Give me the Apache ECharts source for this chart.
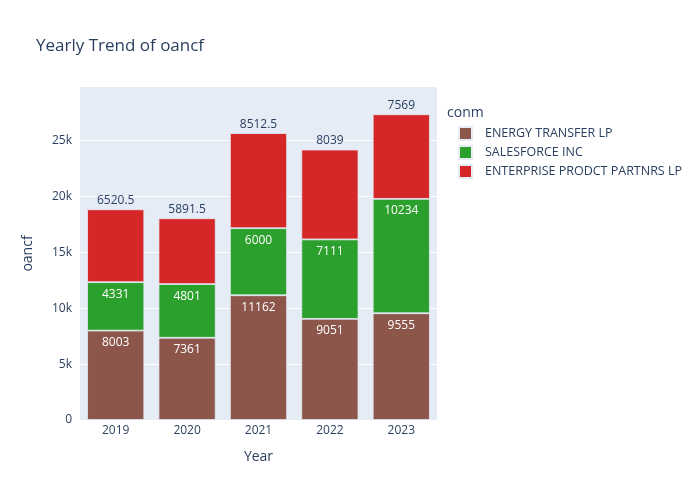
<!DOCTYPE html>
<html>
<head>
<meta charset="utf-8">
<script src="https://cdn.jsdelivr.net/npm/echarts@6/dist/echarts.min.js"></script>
<style>
  html, body { margin: 0; padding: 0; background: #fff; }
  #chart { width: 700px; height: 500px; }
</style>
</head>
<body>
<div id="chart"></div>
<script>
let years = ['2019', '2020', '2021', '2022', '2023'];
let energyTransfer = [8003, 7361, 11162, 9051, 9555];
let salesforce = [4331, 4801, 6000, 7111, 10234];
let enterprise = [6520.5, 5891.5, 8512.5, 8039, 7569];
let seriesNames = ['ENERGY TRANSFER LP', 'SALESFORCE INC', 'ENTERPRISE PRODCT PARTNRS LP'];
let colors = ['#8c564b', '#2ca02c', '#d62728'];

let font = '"Open Sans", "Noto Sans", sans-serif';
let textColor = '#2a3f5f';

let myChart = echarts.init(document.getElementById('chart'));

function barSeries(name, data, color, outside) {
  return {
    name: name,
    type: 'bar',
    stack: 'total',
    data: data,
    barCategoryGap: '20%',
    itemStyle: { color: color, borderColor: '#e5ecf6', borderWidth: 0.8 },
    label: {
      show: true,
      position: outside ? 'top' : 'insideTop',
      distance: outside ? 3 : 6,
      color: outside ? textColor : '#fff',
      fontFamily: font,
      fontSize: 12
    },
    emphasis: { disabled: true }
  };
}

myChart.setOption({
  animation: false,
  color: colors,
  textStyle: { fontFamily: font },
  title: {
    text: 'Yearly Trend of oancf',
    left: 31,
    top: 33,
    textStyle: { color: textColor, fontSize: 17, fontWeight: 'normal', fontFamily: font }
  },
  graphic: [{
    type: 'text',
    left: 447,
    top: 106,
    style: { text: 'conm', fill: textColor, fontSize: 14, fontFamily: font }
  }],
  legend: {
    orient: 'vertical',
    left: 453,
    top: 121,
    itemWidth: 13,
    itemHeight: 13,
    itemGap: 4,
    icon: 'rect',
    data: seriesNames,
    textStyle: { color: textColor, fontSize: 12.5, fontFamily: font, padding: [0, 0, 0, 8] }
  },
  grid: {
    left: 80,
    right: 263,
    top: 87,
    bottom: 80,
    show: true,
    backgroundColor: '#e5ecf6',
    borderWidth: 0
  },
  xAxis: {
    type: 'category',
    data: years,
    name: 'Year',
    nameLocation: 'middle',
    nameGap: 30,
    nameTextStyle: { color: textColor, fontSize: 14, fontFamily: font },
    axisLine: { show: false },
    axisTick: { show: false },
    axisLabel: { color: textColor, fontSize: 12, margin: 5, fontFamily: font }
  },
  yAxis: {
    type: 'value',
    min: 0,
    max: 29800,
    interval: 5000,
    name: 'oancf',
    nameLocation: 'middle',
    nameGap: 45,
    nameTextStyle: { color: textColor, fontSize: 14, fontFamily: font },
    axisLine: { show: false },
    axisTick: { show: false },
    axisLabel: {
      color: textColor,
      fontSize: 12,
      margin: 8,
      fontFamily: font,
      showMaxLabel: false,
      formatter: function (v) {
        return v === 0 ? '0' : (v / 1000) + 'k';
      }
    },
    splitLine: { showMaxLine: false, lineStyle: { color: '#fff', width: 1 } }
  },
  series: [
    barSeries(seriesNames[0], energyTransfer, colors[0], false),
    barSeries(seriesNames[1], salesforce, colors[1], false),
    barSeries(seriesNames[2], enterprise, colors[2], true)
  ]
});
</script>
</body>
</html>
